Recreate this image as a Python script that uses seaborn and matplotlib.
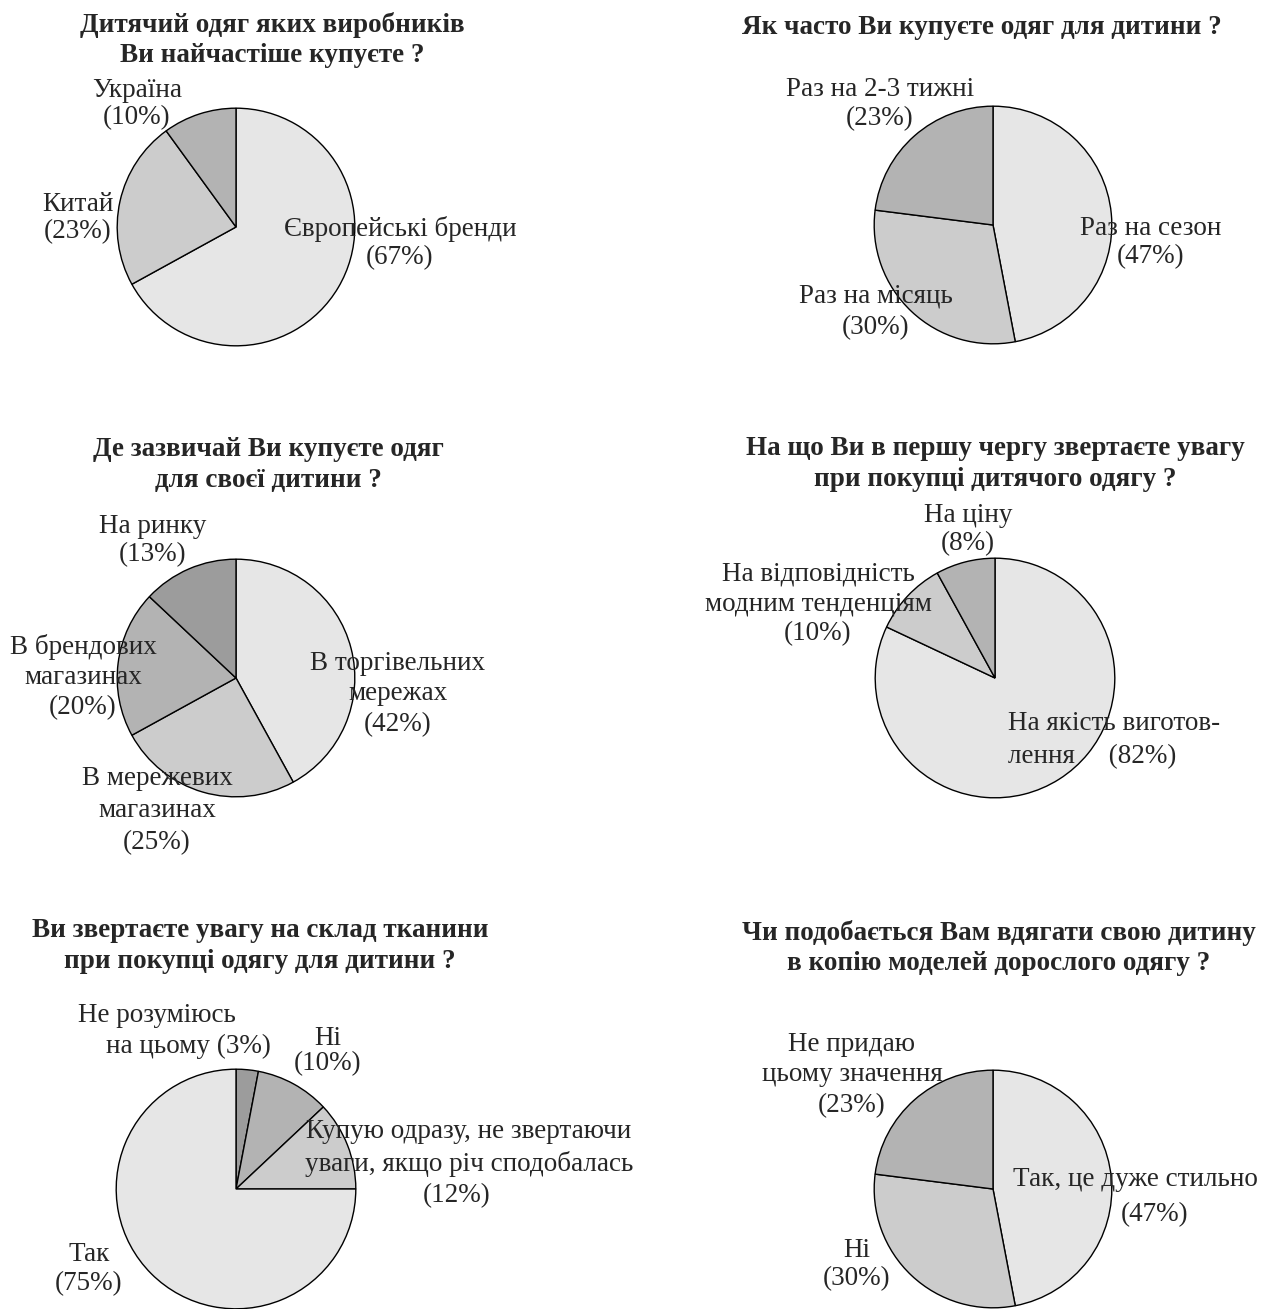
import matplotlib
matplotlib.use("Agg")
import matplotlib.pyplot as plt
import seaborn as sns

sns.set_theme(style="white")
plt.rcParams['font.family'] = ['Liberation Serif', 'DejaVu Serif']

W, H = 1267, 1309

# ---- data ----
q1_title = "Дитячий одяг яких виробників\nВи найчастіше купуєте ?"
q1_labels = ["Європейські бренди", "Китай", "Україна"]
q1_values = [67, 23, 10]

q2_title = "Як часто Ви купуєте одяг для дитини ?"
q2_labels = ["Раз на сезон", "Раз на місяць", "Раз на 2-3 тижні"]
q2_values = [47, 30, 23]

q3_title = "Де зазвичай Ви купуєте одяг\nдля своєї дитини ?"
q3_labels = ["В торгівельних\nмережах", "В мережевих\nмагазинах", "В брендових\nмагазинах", "На ринку"]
q3_values = [42, 25, 20, 13]

q4_title = "На що Ви в першу чергу звертаєте увагу\nпри покупці дитячого одягу ?"
q4_labels = ["На якість виготов-\nлення", "На відповідність\nмодним тенденціям", "На ціну"]
q4_values = [82, 10, 8]

q5_title = "Ви звертаєте увагу на склад тканини\nпри покупці одягу для дитини ?"
q5_labels = ["Не розуміюсь\nна цьому", "Ні", "Купую одразу, не звертаючи\nуваги, якщо річ сподобалась", "Так"]
q5_values = [3, 10, 12, 75]

q6_title = "Чи подобається Вам вдягати свою дитину\nв копію моделей дорослого одягу ?"
q6_labels = ["Так, це дуже стильно", "Ні", "Не придаю\nцьому значення"]
q6_values = [47, 30, 23]

# ---- styles ----
G1, G2, G3, G4 = "#e6e6e6", "#cccccc", "#b3b3b3", "#9c9c9c"
TITLE_FS = 19.5
LABEL_FS = 19.5
DY = 3  # vertical centring offset, px

fig = plt.figure(figsize=(W / 100, H / 100), dpi=100)
fig.patch.set_facecolor("white")


def fx(x):
    return x / W


def fy(y):
    return 1 - y / H


def pie(cx, cy, r, values, colors):
    ax = fig.add_axes([fx(cx - r), fy(cy + r), 2 * r / W, 2 * r / H])
    ax.pie(values, colors=colors, startangle=90, counterclock=False, radius=1,
           wedgeprops=dict(edgecolor="black", linewidth=1.0))
    ax.set_xlim(-1.01, 1.01)
    ax.set_ylim(-1.01, 1.01)
    ax.set_aspect("auto")
    ax.axis("off")
    return ax


def title(x, y, s):
    fig.text(fx(x), fy(y + DY), s, ha="center", va="center", fontsize=TITLE_FS,
             fontweight="bold", linespacing=1.3)


def label(x, y, s, ha="center", ls=1.12):
    fig.text(fx(x), fy(y + DY), s, ha=ha, va="center", fontsize=LABEL_FS,
             linespacing=ls, multialignment=ha)


def pct(v):
    return f"({v}%)"


# Chart 1
title(272, 37, q1_title)
pie(236, 227, 120, q1_values, [G1, G2, G3])
label(400, 240, q1_labels[0] + "\n" + pct(q1_values[0]))
label(78, 215, q1_labels[1] + "\n" + pct(q1_values[1]))
label(137, 101, q1_labels[2] + "\n" + pct(q1_values[2]))

# Chart 2
title(982, 24, q2_title)
pie(993, 225, 120, q2_values, [G1, G2, G3])
label(1151, 240, q2_labels[0] + "\n" + pct(q2_values[0]), ls=1.16)
label(876, 309, q2_labels[1] + "\n" + pct(q2_values[1]), ls=1.37)
label(880, 101, q2_labels[2] + "\n" + pct(q2_values[2]), ls=1.2)

# Chart 3
title(268, 462, q3_title)
pie(236, 678, 120, q3_values, [G1, G2, G3, G4])
label(398, 691, q3_labels[0] + "\n" + pct(q3_values[0]), ls=1.29)
label(157, 808, q3_labels[1] + "\n" + pct(q3_values[1]), ls=1.37)
label(83, 674, q3_labels[2] + "\n" + pct(q3_values[2]), ls=1.25)
label(153, 538, q3_labels[3] + "\n" + pct(q3_values[3]), ls=1.16)

# Chart 4
title(995, 461, q4_title)
pie(995, 678, 121, q4_values, [G1, G2, G3])
label(1008, 737, q4_labels[0] + "     " + pct(q4_values[0]), ha="left", ls=1.46)
label(818, 601, q4_labels[1] + "\n" + pct(q4_values[1]), ls=1.25)
label(968, 527, q4_labels[2] + "\n" + pct(q4_values[2]), ls=1.16)

# Chart 5
title(260, 943, q5_title)
pie(236, 1189, 121, q5_values, [G4, G3, G2, G1])
l5a, l5b = q5_labels[0].split("\n")
label(157, 1013, l5a)
label(188, 1043, l5b + " " + pct(q5_values[0]))
label(328, 1048, q5_labels[1] + "\n" + pct(q5_values[1]), ls=1.03)
label(469, 1145, q5_labels[2], ls=1.37)
label(457, 1193, pct(q5_values[2]))
label(89, 1266, q5_labels[3] + "\n" + pct(q5_values[3]), ls=1.2)

# Chart 6
title(999, 945, q6_title)
pie(993, 1189, 120, q6_values, [G1, G2, G3])
label(1135, 1177, q6_labels[0])
label(1155, 1212, pct(q6_values[0]))
label(857, 1262, q6_labels[1] + "\n" + pct(q6_values[1]), ls=1.16)
label(852, 1072, q6_labels[2] + "\n" + pct(q6_values[2]), ls=1.29)

fig.savefig("out.png", dpi=100, facecolor="white")
